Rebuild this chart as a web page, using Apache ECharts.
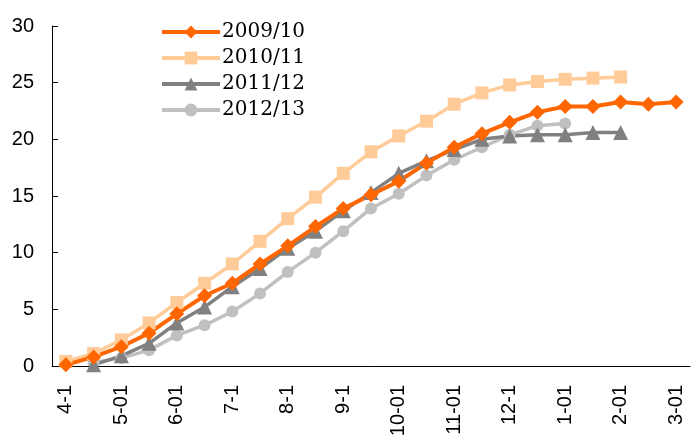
<!DOCTYPE html>
<html><head><meta charset="utf-8">
<script src="https://cdn.jsdelivr.net/npm/echarts@6/dist/echarts.min.js"></script>
<style>html,body{margin:0;padding:0;background:#fff}#c{width:699px;height:441px}</style>
</head><body><div id="c"></div>
<script>
const categories = ['4-1','4-16','5-01','5-16','6-01','6-16','7-1','7-16','8-1','8-16','9-1','9-16','10-01','10-16','11-01','11-16','12-1','12-16','1-01','1-16','2-01','2-16','3-01'];
const s0910 = [0.1,0.8,1.7,2.9,4.6,6.2,7.3,9.0,10.6,12.3,13.9,15.1,16.3,17.9,19.3,20.5,21.5,22.4,22.9,22.9,23.3,23.1,23.3];
const s1011 = [0.4,1.1,2.3,3.8,5.6,7.3,9.0,11.0,13.0,14.9,17.0,18.9,20.3,21.6,23.1,24.1,24.8,25.1,25.3,25.4,25.5,null,null];
const s1112 = [null,0.1,0.9,2.0,3.8,5.2,7.0,8.6,10.4,11.9,13.7,15.3,17.0,18.1,19.1,20.0,20.3,20.4,20.4,20.6,20.6,null,null];
const s1213 = [null,0.3,0.7,1.4,2.7,3.6,4.8,6.4,8.3,10.0,11.9,13.9,15.2,16.8,18.2,19.3,20.4,21.2,21.4,null,null,null,null];
const yTicks = {min:0,max:30,interval:5};
const legendNames = ['2009/10','2010/11','2011/12','2012/13'];

function mk(name,data,color,symbol,size,width){
  return {name,type:'line',data,symbol,symbolSize:size,showSymbol:true,
    lineStyle:{color,width},itemStyle:{color},connectNulls:false,animation:false};
}
const chart = echarts.init(document.getElementById('c'));
chart.setOption({
  animation:false,
  grid:{left:52,right:9,top:26,bottom:75,containLabel:false},
  legend:{orient:'vertical',left:155,top:17,itemWidth:58,itemHeight:16,itemGap:6,
    lineStyle:{width:4},
    textStyle:{fontFamily:'DejaVu Serif',fontSize:20,color:'#000',padding:[0,0,0,-3]},
    data:legendNames.map(n=>({name:n,lineStyle:{width:4}}))},
  xAxis:{type:'category',data:categories,boundaryGap:true,
    axisLine:{lineStyle:{color:'#000',width:1}},
    axisTick:{inside:true,length:6,interval:0,lineStyle:{color:'#000'}},
    axisLabel:{interval:1,rotate:90,margin:19,fontFamily:'Liberation Sans',fontSize:20,color:'#000'}},
  yAxis:{type:'value',min:yTicks.min,max:yTicks.max,interval:yTicks.interval,
    splitLine:{show:false},
    axisLine:{show:true,lineStyle:{color:'#000',width:1}},
    axisTick:{show:true,inside:true,length:6,lineStyle:{color:'#000'}},
    axisLabel:{margin:18,fontFamily:'Liberation Sans',fontSize:20,color:'#000'}},
  series:[
    mk('2012/13',s1213,'#C0C0C0','circle',12,3.5),
    mk('2011/12',s1112,'#808080','triangle',15,3.5),
    mk('2010/11',s1011,'#FFCC99','rect',13,3.5),
    mk('2009/10',s0910,'#FF6600','diamond',15,4)
  ]
});
</script></body></html>
